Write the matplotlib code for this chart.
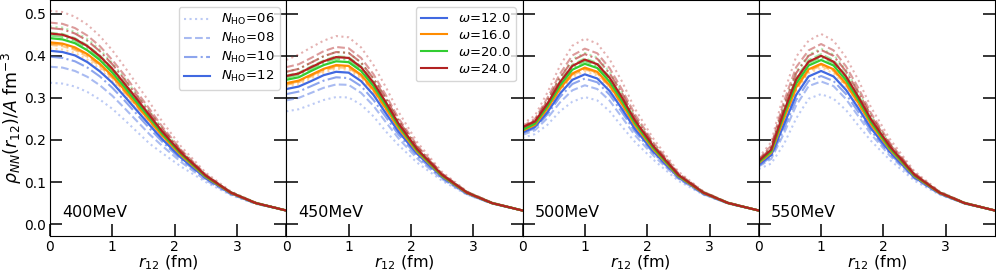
import numpy as np
import matplotlib
matplotlib.use('Agg')
import matplotlib.pyplot as plt
from matplotlib.lines import Line2D

# r_12 grid (fm)
r = [0, 0.2, 0.4, 0.6, 0.8, 1.0, 1.2, 1.4, 1.6, 1.8, 2.1, 2.5, 2.9, 3.3, 3.8]

energies = ['400MeV', '450MeV', '500MeV', '550MeV']
omegas = [12.0, 16.0, 20.0, 24.0]
nho = ['06', '08', '10', '12']

# rho_NN/A in units of 1e-3 fm^-3, rows are N_HO = 06, 08, 10, 12
rho400_w12 = [[336, 334, 327, 314, 296, 274, 247, 219, 191, 169, 137, 100, 69, 48, 32],
              [374, 372, 364, 350, 330, 305, 275, 244, 213, 186, 148, 104, 71, 49, 32],
              [398, 395, 387, 372, 351, 324, 293, 260, 227, 196, 154, 108, 72, 49, 32],
              [412, 409, 401, 385, 363, 336, 303, 269, 235, 202, 158, 109, 73, 50, 32]]
rho400_w16 = [[418, 415, 407, 391, 369, 341, 308, 273, 238, 205, 160, 110, 73, 50, 32],
              [426, 423, 414, 398, 375, 347, 313, 278, 242, 208, 162, 111, 74, 50, 32],
              [429, 426, 417, 402, 379, 350, 316, 280, 245, 210, 163, 112, 74, 50, 32],
              [432, 429, 420, 404, 381, 352, 318, 282, 246, 211, 164, 112, 74, 50, 32]]
rho400_w20 = [[470, 467, 457, 440, 415, 383, 346, 307, 268, 228, 175, 117, 76, 51, 32],
              [455, 452, 442, 425, 401, 371, 335, 297, 259, 221, 171, 115, 75, 50, 32],
              [448, 445, 436, 419, 395, 365, 330, 292, 255, 218, 169, 114, 75, 50, 32],
              [442, 439, 430, 413, 390, 360, 325, 288, 252, 215, 167, 113, 75, 50, 32]]
rho400_w24 = [[507, 504, 493, 474, 447, 413, 373, 331, 289, 244, 185, 122, 78, 51, 32],
              [479, 476, 466, 448, 423, 390, 353, 313, 273, 232, 177, 118, 76, 51, 32],
              [466, 463, 453, 436, 411, 380, 343, 304, 265, 226, 174, 116, 76, 51, 32],
              [453, 450, 440, 423, 399, 369, 333, 296, 258, 220, 170, 115, 75, 50, 32]]

rho450_w12 = [[268, 273, 284, 295, 302, 301, 284, 256, 220, 188, 146, 103, 70, 49, 32],
              [294, 300, 312, 324, 332, 331, 312, 281, 242, 204, 156, 107, 71, 49, 32],
              [309, 315, 328, 341, 349, 347, 328, 295, 254, 213, 162, 110, 72, 49, 32],
              [321, 327, 340, 354, 362, 360, 340, 307, 263, 220, 167, 112, 73, 50, 32]]
rho450_w16 = [[327, 332, 346, 360, 369, 367, 346, 312, 268, 224, 169, 113, 73, 50, 32],
              [331, 337, 351, 365, 373, 371, 351, 316, 272, 227, 170, 113, 74, 50, 32],
              [333, 339, 353, 367, 376, 374, 353, 318, 274, 228, 171, 114, 74, 50, 32],
              [335, 341, 355, 369, 378, 376, 355, 320, 275, 229, 172, 114, 74, 50, 32]]
rho450_w20 = [[362, 369, 384, 399, 409, 407, 384, 346, 298, 246, 183, 119, 76, 51, 32],
              [353, 360, 375, 389, 399, 397, 375, 338, 290, 240, 179, 117, 75, 50, 32],
              [348, 355, 369, 384, 393, 391, 369, 333, 286, 237, 177, 116, 75, 50, 32],
              [343, 349, 364, 378, 387, 385, 364, 328, 282, 234, 175, 115, 75, 50, 32]]
rho450_w24 = [[390, 403, 420, 436, 447, 444, 420, 378, 325, 267, 195, 124, 78, 51, 32],
              [373, 380, 395, 411, 421, 418, 395, 356, 306, 252, 187, 120, 77, 51, 32],
              [362, 369, 384, 399, 409, 407, 384, 346, 298, 246, 183, 119, 76, 51, 32],
              [352, 358, 373, 387, 397, 395, 373, 336, 289, 239, 178, 117, 75, 50, 32]]

rho500_w12 = [[205, 214, 236, 268, 291, 302, 294, 268, 231, 196, 153, 103, 70, 49, 32],
              [212, 223, 252, 289, 318, 330, 321, 293, 253, 212, 163, 108, 71, 49, 32],
              [216, 228, 261, 302, 333, 346, 337, 307, 265, 221, 169, 110, 72, 49, 32],
              [218, 231, 266, 310, 343, 356, 346, 316, 273, 227, 172, 112, 73, 50, 32]]
rho500_w16 = [[220, 233, 270, 315, 349, 363, 353, 322, 278, 231, 175, 113, 73, 50, 32],
              [221, 235, 273, 319, 354, 368, 358, 326, 282, 233, 176, 113, 74, 50, 32],
              [222, 235, 274, 321, 356, 370, 360, 328, 284, 235, 177, 114, 74, 50, 32],
              [222, 236, 275, 322, 358, 372, 362, 330, 285, 236, 178, 114, 74, 50, 32]]
rho500_w20 = [[230, 247, 294, 349, 392, 407, 396, 361, 312, 256, 191, 119, 76, 51, 32],
              [227, 243, 287, 339, 379, 394, 383, 349, 302, 249, 186, 117, 75, 50, 32],
              [226, 241, 283, 334, 372, 387, 376, 343, 296, 244, 183, 116, 75, 50, 32],
              [224, 239, 280, 329, 367, 381, 371, 338, 292, 241, 181, 115, 75, 50, 32]]
rho500_w24 = [[238, 258, 313, 376, 424, 441, 429, 391, 338, 275, 203, 125, 78, 51, 32],
              [233, 250, 300, 357, 401, 417, 406, 370, 319, 262, 194, 121, 77, 51, 32],
              [230, 246, 293, 347, 389, 404, 393, 358, 310, 254, 189, 119, 76, 51, 32],
              [230, 244, 286, 337, 376, 391, 380, 347, 300, 247, 185, 117, 75, 50, 32]]

rho550_w12 = [[131, 144, 189, 251, 298, 309, 298, 271, 234, 198, 153, 103, 70, 49, 32],
              [137, 155, 214, 282, 328, 339, 328, 297, 256, 214, 163, 108, 72, 49, 32],
              [139, 160, 225, 295, 340, 352, 340, 309, 266, 222, 168, 110, 72, 49, 32],
              [142, 164, 235, 307, 351, 364, 351, 319, 275, 228, 172, 111, 73, 50, 32]]
rho550_w16 = [[143, 167, 242, 315, 359, 371, 359, 326, 281, 233, 175, 113, 73, 50, 32],
              [144, 168, 246, 320, 364, 376, 364, 330, 285, 235, 176, 113, 74, 50, 32],
              [145, 169, 248, 323, 366, 379, 366, 332, 287, 237, 177, 114, 74, 50, 32],
              [145, 170, 250, 325, 368, 381, 368, 334, 288, 238, 178, 114, 74, 50, 32]]
rho550_w20 = [[152, 183, 281, 362, 403, 417, 403, 366, 315, 258, 191, 119, 76, 51, 32],
              [149, 178, 270, 348, 390, 404, 390, 354, 305, 251, 186, 117, 75, 50, 32],
              [148, 175, 263, 341, 383, 396, 383, 347, 300, 247, 183, 116, 75, 50, 32],
              [147, 173, 258, 334, 377, 390, 377, 342, 295, 243, 181, 115, 75, 50, 32]]
rho550_w24 = [[158, 195, 310, 398, 436, 452, 436, 396, 342, 278, 203, 125, 78, 51, 32],
              [154, 187, 290, 373, 413, 428, 413, 375, 323, 264, 194, 121, 77, 51, 32],
              [151, 182, 278, 359, 400, 414, 400, 363, 313, 257, 190, 119, 76, 51, 32],
              [150, 177, 266, 344, 386, 400, 386, 351, 302, 249, 185, 117, 75, 50, 32]]

panels = [[rho400_w12, rho400_w16, rho400_w20, rho400_w24],
          [rho450_w12, rho450_w16, rho450_w20, rho450_w24],
          [rho500_w12, rho500_w16, rho500_w20, rho500_w24],
          [rho550_w12, rho550_w16, rho550_w20, rho550_w24]]

colors = ['royalblue', 'darkorange', 'limegreen', 'firebrick']
styles = [':', '--', '-.', '-']
alphas = [0.35, 0.45, 0.6, 1.0]

fig, axes = plt.subplots(1, 4, figsize=(9.96, 2.74), sharey=True)
fig.subplots_adjust(left=0.0502, right=0.999, bottom=0.139, top=0.999, wspace=0)

for ax, e, data in zip(axes, energies, panels):
    # faded lower N_HO first, converged N_HO=12 on top
    for j in range(3):
        for i in range(4):
            ax.plot(r, np.array(data[i][j]) / 1000, color=colors[i], ls=styles[j], alpha=alphas[j], lw=1.5)
    for i in range(4):
        ax.plot(r, np.array(data[i][3]) / 1000, color=colors[i], lw=1.6)
    ax.set_xlim(0, 3.79)
    ax.set_ylim(-0.028, 0.532)
    ax.set_xticks([0, 1, 2, 3])
    ax.set_yticks([0.0, 0.1, 0.2, 0.3, 0.4, 0.5])
    ax.tick_params(direction='in', length=8.5, width=1.1, right=True, labelsize=10, pad=3)
    ax.set_xlabel(r'$r_{12}$ (fm)', fontsize=11.5, labelpad=0)
    ax.text(0.05, 0.1, e, transform=ax.transAxes, fontsize=11.5, va='center')

axes[0].set_ylabel(r'$\rho_{NN}(r_{12})/A$ fm$^{-3}$', fontsize=12.5, labelpad=0)

h1 = [Line2D([], [], color='royalblue', ls=styles[j], alpha=alphas[j], lw=1.5) for j in range(4)]
axes[0].legend(h1, [r'$N_{\rm HO}$=' + n for n in nho], loc='upper right', fontsize=9.5,
               labelspacing=0.3, handlelength=2.0)
h2 = [Line2D([], [], color=colors[i], lw=1.5) for i in range(4)]
axes[1].legend(h2, [r'$\omega$=%.1f' % o for o in omegas], loc='upper right', fontsize=9.5,
               labelspacing=0.3, handlelength=2.0)

fig.savefig('out.png', dpi=100)
